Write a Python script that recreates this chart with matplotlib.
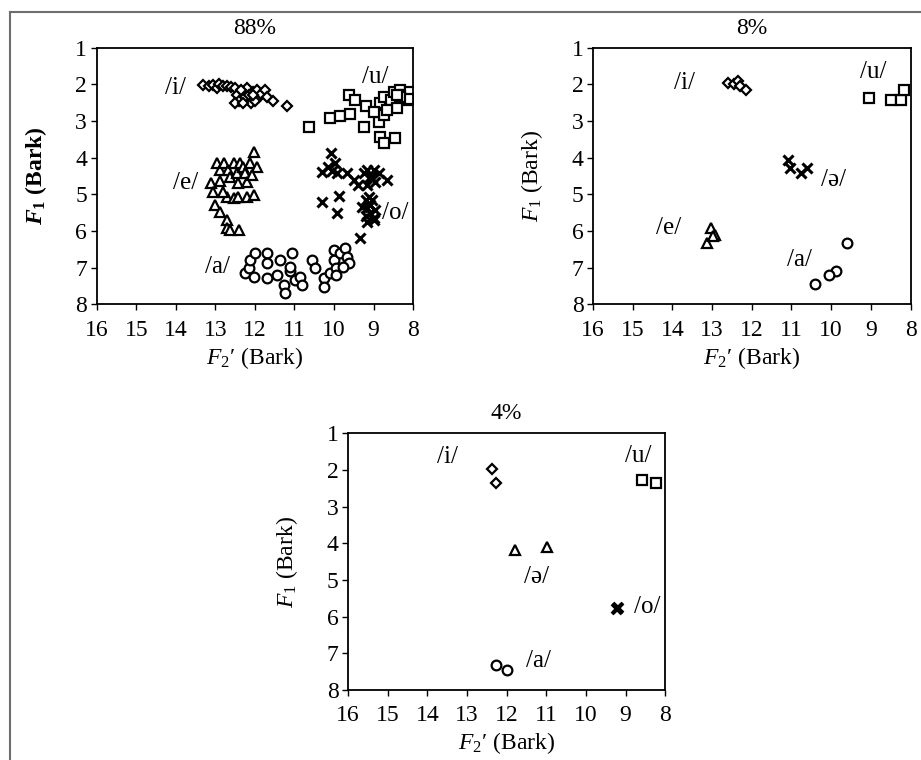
import matplotlib
matplotlib.use("Agg")
import matplotlib.pyplot as plt
from matplotlib.lines import Line2D

plt.rcParams['font.family'] = ['Liberation Serif', 'DejaVu Serif']
plt.rcParams['mathtext.fontset'] = 'custom'
plt.rcParams['mathtext.rm'] = 'Liberation Serif'
plt.rcParams['mathtext.it'] = 'Liberation Serif:italic'
plt.rcParams['mathtext.bf'] = 'Liberation Serif:bold'
plt.rcParams['mathtext.bfit'] = 'Liberation Serif:bold:italic'

# ---- 88% ----
i88_f2 = [13.3, 13.15, 13.05, 12.95, 12.9, 12.8, 12.7, 12.6, 12.5, 12.45, 12.4, 12.3, 12.25,
          12.2, 12.15, 12.1, 12.05, 12.0, 11.95, 11.9, 11.85, 11.75, 11.7, 11.55, 11.2, 12.5,
          12.3, 12.0, 12.35, 12.05]
i88_f1 = [2.03, 2.05, 2.02, 2.1, 2.0, 2.05, 2.05, 2.08, 2.1, 2.3, 2.45, 2.2, 2.35,
          2.1, 2.3, 2.5, 2.2, 2.4, 2.15, 2.35, 2.25, 2.15, 2.35, 2.45, 2.6, 2.5,
          2.5, 2.45, 2.15, 2.3]
u88_f2 = [10.62, 10.11, 9.84, 9.59, 9.63, 9.46, 9.2, 9.25, 8.87, 8.83, 8.74, 8.74, 8.83,
          8.74, 8.45, 8.57, 8.49, 8.32, 8.24, 8.15, 8.4, 8.07, 8.1, 8.32, 8.66, 9.0, 8.4]
u88_f1 = [3.17, 2.93, 2.86, 2.81, 2.29, 2.43, 2.6, 3.15, 3.02, 2.52, 2.34, 2.84, 3.43,
          3.61, 3.45, 2.43, 2.2, 2.15, 2.29, 2.43, 2.65, 2.2, 2.4, 2.35, 2.7, 2.75, 2.3]
e88_f2 = [13.11, 13.05, 13.0, 12.89, 12.71, 12.71, 12.63, 12.39, 12.96, 12.88, 12.79, 12.67,
          12.63, 12.54, 12.46, 12.42, 12.38, 12.29, 12.25, 12.21, 12.12, 12.02, 11.95, 12.08,
          12.71, 12.54, 12.42, 12.2, 12.03, 12.81, 12.88]
e88_f1 = [4.68, 4.93, 5.29, 5.47, 5.7, 5.93, 5.97, 5.97, 4.15, 4.34, 4.15, 4.34,
          4.52, 4.15, 4.43, 4.7, 4.15, 4.25, 4.43, 4.65, 4.15, 3.84, 4.25, 4.48,
          5.06, 5.1, 5.06, 5.06, 5.02, 4.93, 4.63]
o88_f2 = [10.08, 10.14, 9.97, 9.92, 10.3, 9.67, 9.5, 9.38, 9.25, 9.16, 9.08, 9.0, 8.87,
          8.96, 9.16, 8.66, 10.05, 10.3, 9.88, 9.92, 9.33, 9.2, 9.12, 9.16, 9.08, 9.2,
          8.99, 9.29, 9.04, 9.12, 9.16, 8.96, 9.1, 9.05, 9.0]
o88_f1 = [3.88, 4.25, 4.15, 4.43, 4.38, 4.43, 4.6, 4.75, 4.43, 4.34, 4.52, 4.34, 4.43,
          4.65, 4.75, 4.6, 4.35, 5.2, 5.05, 5.52, 6.2, 5.15, 5.25, 5.38, 5.52, 5.6,
          5.65, 5.34, 5.15, 5.06, 5.75, 5.43, 5.3, 4.55, 5.7]
a88_f2 = [12.24, 12.16, 12.12, 11.99, 11.7, 11.7, 11.7, 11.44, 11.36, 11.27, 11.23, 11.1,
          11.05, 11.1, 10.98, 10.85, 10.81, 10.56, 10.49, 10.26, 10.26, 10.09, 10.0, 10.0,
          9.96, 9.84, 9.71, 9.67, 9.63, 9.76, 9.96, 12.03]
a88_f1 = [7.15, 7.02, 6.79, 6.61, 6.61, 6.88, 7.29, 7.2, 6.79, 7.47, 7.7, 7.1,
          6.61, 6.97, 7.34, 7.25, 7.47, 6.79, 7.02, 7.29, 7.52, 7.15, 6.79, 6.52,
          7.02, 6.61, 6.47, 6.7, 6.88, 6.97, 7.2, 7.25]

# ---- 8% ----
i8_f2 = [12.6, 12.45, 12.35, 12.3, 12.15]
i8_f1 = [1.95, 2.0, 1.92, 2.05, 2.15]
u8_f2 = [9.04, 8.5, 8.25, 8.17]
u8_f1 = [2.38, 2.43, 2.43, 2.14]
schwa8_f2 = [11.08, 11.04, 10.75, 10.62]
schwa8_f1 = [4.06, 4.29, 4.43, 4.29]
e8_f2 = [13.04, 12.93, 13.12, 12.97]
e8_f1 = [5.91, 6.11, 6.32, 6.15]
a8_f2 = [9.61, 9.87, 10.05, 10.41]
a8_f1 = [6.34, 7.1, 7.2, 7.45]

# ---- 4% ----
i4_f2 = [12.36, 12.26]
i4_f1 = [1.98, 2.35]
u4_f2 = [8.58, 8.24]
u4_f1 = [2.27, 2.36]
schwa4_f2 = [11.8, 10.98]
schwa4_f1 = [4.18, 4.1]
o4_f2 = [9.21, 9.19]
o4_f1 = [5.8, 5.76]
a4_f2 = [12.26, 12.0]
a4_f1 = [7.32, 7.45]

fig = plt.figure(figsize=(9.21, 7.6), dpi=100)

# frame lines of the page
fig.add_artist(Line2D([0.0109, 1.0], [0.984, 0.984], transform=fig.transFigure, color='#6e6e6e', lw=1.5))
fig.add_artist(Line2D([0.0109, 0.0109], [0.0, 0.984], transform=fig.transFigure, color='#6e6e6e', lw=1.5))

sty = dict(mfc='white', mec='black', ls='none', mew=1.6)


def setup(ax, title, bold=False):
    ax.set_xlim(16, 8)
    ax.set_ylim(8, 1)
    ax.set_xticks(range(8, 17))
    ax.set_yticks(range(1, 9))
    ax.tick_params(direction='out', length=4, width=1, labelsize=17, pad=3)
    ax.tick_params(axis='x', pad=7)
    for s in ax.spines.values():
        s.set_linewidth(1.3)
    ax.set_title(title, fontsize=17, pad=10)
    if bold:
        ax.set_ylabel(r"$\mathbfit{F}_\mathbf{1}$ (Bark)", fontsize=17, fontweight='bold', labelpad=19)
    else:
        ax.set_ylabel(r"$F_1$ (Bark)", fontsize=17, labelpad=19)
    ax.set_xlabel(r"$F_2$′ (Bark)", fontsize=17, labelpad=3)


def lab(ax, x, y, s):
    ax.text(x, y, s, fontsize=18, ha='center', va='center')


ax1 = fig.add_axes([0.105, 0.5996, 0.3435, 0.3376])
ax1.plot(i88_f2, i88_f1, marker='D', ms=4.8, **sty)
ax1.plot(u88_f2, u88_f1, marker='s', ms=6.6, **sty)
ax1.plot(e88_f2, e88_f1, marker='^', ms=7.2, **sty)
ax1.plot(a88_f2, a88_f1, marker='o', ms=7, **sty)
ax1.plot(o88_f2, o88_f1, marker='x', ms=7.5, color='black', ls='none', mew=2.2)
setup(ax1, "88%", bold=True)
lab(ax1, 14.02, 2.11, "/i/")
lab(ax1, 8.95, 1.79, "/u/")
lab(ax1, 13.76, 4.7, "/e/")
lab(ax1, 8.45, 5.52, "/o/")
lab(ax1, 12.95, 6.97, "/a/")

ax2 = fig.add_axes([0.644, 0.5996, 0.3446, 0.3376])
ax2.plot(i8_f2, i8_f1, marker='D', ms=4.8, **sty)
ax2.plot(u8_f2, u8_f1, marker='s', ms=6.6, **sty)
ax2.plot(e8_f2, e8_f1, marker='^', ms=7.2, **sty)
ax2.plot(a8_f2, a8_f1, marker='o', ms=7, **sty)
ax2.plot(schwa8_f2, schwa8_f1, marker='x', ms=7.5, color='black', ls='none', mew=2.2)
setup(ax2, "8%")
lab(ax2, 13.69, 1.97, "/i/")
lab(ax2, 8.94, 1.65, "/u/")
lab(ax2, 9.95, 4.61, "/ə/")
lab(ax2, 14.1, 5.93, "/e/")
lab(ax2, 10.8, 6.79, "/a/")

ax3 = fig.add_axes([0.378, 0.0921, 0.3442, 0.3378])
ax3.plot(i4_f2, i4_f1, marker='D', ms=4.8, **sty)
ax3.plot(u4_f2, u4_f1, marker='s', ms=6.6, **sty)
ax3.plot(schwa4_f2, schwa4_f1, marker='^', ms=7.2, **sty)
ax3.plot(a4_f2, a4_f1, marker='o', ms=7, **sty)
ax3.plot(o4_f2, o4_f1, marker='x', ms=7.5, color='black', ls='none', mew=2.8)
setup(ax3, "4%")
lab(ax3, 13.48, 1.64, "/i/")
lab(ax3, 8.68, 1.62, "/u/")
lab(ax3, 11.25, 4.91, "/ə/")
lab(ax3, 8.45, 5.74, "/o/")
lab(ax3, 11.2, 7.2, "/a/")

fig.savefig("out.png", dpi=100)
